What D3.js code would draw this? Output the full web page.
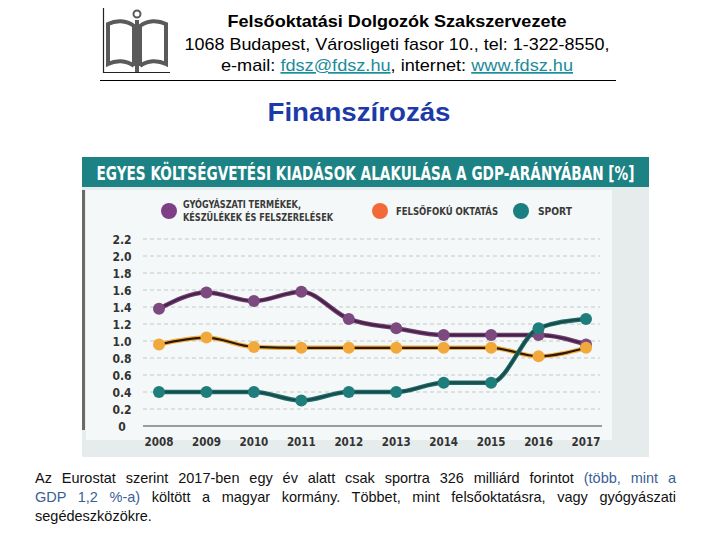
<!DOCTYPE html>
<html>
<head>
<meta charset="utf-8">
<script src="https://cdn.jsdelivr.net/npm/d3@7"></script>
<style>
	body { margin: 0; background: #fff; }
	#wrap { position: relative; width: 720px; height: 540px; overflow: hidden; }
	.para { position: absolute; left: 35px; width: 641px; font-family: "Liberation Sans", Arial, sans-serif;
		font-size: 14.5px; color: #111; text-align: justify; text-align-last: justify; white-space: nowrap; }
	.para.last { text-align-last: left; }
	.blue { color: #3a5f95; }
</style>
</head>
<body>
<div id="wrap">
	<svg id="chart" width="720" height="540"></svg>
	<div class="para" style="top:470px">Az Eurostat szerint 2017-ben egy év alatt csak sportra 326 milliárd forintot <span class="blue">(több, mint a</span></div>
	<div class="para" style="top:489px"><span class="blue">GDP 1,2 %-a)</span> költött a magyar kormány. Többet, mint felsőoktatásra, vagy gyógyászati</div>
	<div class="para last" style="top:508px">segédeszközökre.</div>
</div>
<script>
// data
const years = [2008, 2009, 2010, 2011, 2012, 2013, 2014, 2015, 2016, 2017];
const medical = [1.38, 1.57, 1.47, 1.58, 1.26, 1.15, 1.07, 1.07, 1.07, 0.96];
const higherEdu = [0.96, 1.04, 0.93, 0.92, 0.92, 0.92, 0.92, 0.92, 0.82, 0.92];
const sport = [0.40, 0.40, 0.40, 0.30, 0.40, 0.40, 0.51, 0.51, 1.15, 1.26];
const yTicks = [0, 0.2, 0.4, 0.6, 0.8, 1.0, 1.2, 1.4, 1.6, 1.8, 2.0, 2.2];

const series = [
	{ name: "medical", values: medical, halo: "#6e3f70", line: "#4a2249", dot: "#7d4a80" },
	{ name: "edu", values: higherEdu, halo: "#f4ad3c", line: "#2a1a08", dot: "#f2a93b" },
	{ name: "sport", values: sport, halo: "#1f6e6c", line: "#1a4a49", dot: "#1f7e7b" }
];

const svg = d3.select("#chart");
const hfont = "'Liberation Sans', Arial, sans-serif";
const cfont = "'DejaVu Sans Condensed', 'DejaVu Sans', sans-serif";

// ---- header logo
const logo = svg.append("g").attr("fill", "none").attr("stroke", "#5a5a5a");
logo.append("path").attr("d", "M103.5,8 V72.5 H170").attr("stroke-width", 1.2).attr("stroke", "#222");
logo.append("circle").attr("cx", 137).attr("cy", 14).attr("r", 3.5).attr("stroke-width", 2);
logo.append("path").attr("stroke-width", 4)
	.attr("d", "M137,20 V72 M134,66 C126,60 116,60 108,64 V24 C116,20 126,20 134,26 V66 M140,66 C148,60 158,60 166,64 V24 C158,20 148,20 140,26 V66");

// ---- header text
const hdr = svg.append("g").attr("font-family", hfont).attr("text-anchor", "middle").attr("fill", "#000");
hdr.append("text").attr("x", 397).attr("y", 27).attr("font-size", 17).attr("font-weight", "bold")
	.attr("textLength", 339).attr("lengthAdjust", "spacingAndGlyphs")
	.text("Felsőoktatási Dolgozók Szakszervezete");
hdr.append("text").attr("x", 397).attr("y", 50).attr("font-size", 17)
	.attr("textLength", 425).attr("lengthAdjust", "spacingAndGlyphs")
	.text("1068 Budapest, Városligeti fasor 10., tel: 1-322-8550,");
const l3 = hdr.append("text").attr("x", 397).attr("y", 71).attr("font-size", 17)
	.attr("textLength", 352).attr("lengthAdjust", "spacingAndGlyphs");
l3.append("tspan").text("e-mail: ");
l3.append("tspan").attr("fill", "#1b8c9a").attr("text-decoration", "underline").text("fdsz@fdsz.hu");
l3.append("tspan").text(", internet: ");
l3.append("tspan").attr("fill", "#1b8c9a").attr("text-decoration", "underline").text("www.fdsz.hu");
svg.append("line").attr("x1", 100).attr("x2", 616).attr("y1", 80.5).attr("y2", 80.5).attr("stroke", "#000");

svg.append("text").attr("x", 359).attr("y", 121).attr("text-anchor", "middle")
	.attr("font-family", hfont).attr("font-weight", "bold").attr("font-size", 26).attr("fill", "#1c3aa8")
	.attr("textLength", 183).attr("lengthAdjust", "spacingAndGlyphs")
	.text("Finanszírozás");

// ---- chart image frame
const box = { x: 82, y: 157, w: 567, h: 300 };
svg.append("rect").attr("x", box.x).attr("y", box.y).attr("width", box.w).attr("height", box.h).attr("fill", "#e6ebeb");
svg.append("rect").attr("x", box.x + 4).attr("y", 190).attr("width", 526).attr("height", 250).attr("fill", "#f5f8f8");
svg.append("rect").attr("x", box.x).attr("y", 190).attr("width", 3).attr("height", 240).attr("fill", "#6b6b66");
svg.append("rect").attr("x", box.x).attr("y", box.y).attr("width", box.w).attr("height", 30).attr("fill", "#1c8284");
svg.append("text").attr("transform", "translate(365.5,180) scale(1,1.15)").attr("text-anchor", "middle")
	.attr("font-family", cfont).attr("font-weight", "bold")
	.attr("font-size", 16.5).attr("fill", "#fff").attr("textLength", 538).attr("lengthAdjust", "spacingAndGlyphs")
	.text("EGYES KÖLTSÉGVETÉSI KIADÁSOK ALAKULÁSA A GDP-ARÁNYÁBAN [%]");

// ---- legend
const leg = svg.append("g").attr("font-family", cfont).attr("font-weight", "bold").attr("font-size", 10.5).attr("fill", "#3a3a3a");
leg.append("circle").attr("cx", 169).attr("cy", 211).attr("r", 8).attr("fill", "#7d3f86");
leg.append("text").attr("x", 183).attr("y", 208).attr("textLength", 118).attr("lengthAdjust", "spacingAndGlyphs").text("GYÓGYÁSZATI TERMÉKEK,");
leg.append("text").attr("x", 183).attr("y", 221).attr("textLength", 150).attr("lengthAdjust", "spacingAndGlyphs").text("KÉSZÜLÉKEK ÉS FELSZERELÉSEK");
leg.append("circle").attr("cx", 380).attr("cy", 211).attr("r", 8).attr("fill", "#f26a3a");
leg.append("text").attr("x", 396).attr("y", 215).attr("textLength", 102).attr("lengthAdjust", "spacingAndGlyphs").text("FELSŐFOKÚ OKTATÁS");
leg.append("circle").attr("cx", 521).attr("cy", 211).attr("r", 8).attr("fill", "#1b7e80");
leg.append("text").attr("x", 538).attr("y", 215).attr("textLength", 34).attr("lengthAdjust", "spacingAndGlyphs").text("SPORT");

// ---- scales
const x = d3.scalePoint().domain(years).range([159, 586]);
const y = d3.scaleLinear().domain([0, 2.2]).range([426, 239]);

// gridlines
svg.append("g").selectAll("line").data(yTicks.filter(d => d > 0)).join("line")
	.attr("x1", 143).attr("x2", 600)
	.attr("y1", d => y(d)).attr("y2", d => y(d))
	.attr("stroke", "#c4c8c8").attr("stroke-width", 1).attr("stroke-dasharray", "4,3");
svg.append("line").attr("x1", 143).attr("x2", 602).attr("y1", y(0)).attr("y2", y(0))
	.attr("stroke", "#7a7f80").attr("stroke-width", 1.3);

// y labels
svg.append("g").selectAll("text").data(yTicks).join("text")
	.attr("x", 122).attr("y", d => y(d) + 4.5).attr("text-anchor", "middle")
	.attr("font-family", cfont).attr("font-weight", "bold").attr("font-size", 12).attr("fill", "#333")
	.text(d => d === 0 ? "0" : d.toFixed(1));

// x labels
svg.append("g").selectAll("text").data(years).join("text")
	.attr("x", d => x(d)).attr("y", 446).attr("text-anchor", "middle")
	.attr("font-family", cfont).attr("font-weight", "bold").attr("font-size", 11.5).attr("fill", "#333")
	.text(d => d);

// lines
const line = d3.line().x((d, i) => x(years[i])).y(d => y(d)).curve(d3.curveMonotoneX);
series.forEach(s => {
	const g = svg.append("g");
	g.append("path").attr("d", line(s.values)).attr("fill", "none").attr("stroke", s.halo).attr("stroke-width", 4.5);
	g.append("path").attr("d", line(s.values)).attr("fill", "none").attr("stroke", s.line).attr("stroke-width", 2.2);
	g.selectAll("circle").data(s.values).join("circle")
		.attr("cx", (d, i) => x(years[i])).attr("cy", d => y(d)).attr("r", 6)
		.attr("fill", s.dot);
});
</script>
</body>
</html>
